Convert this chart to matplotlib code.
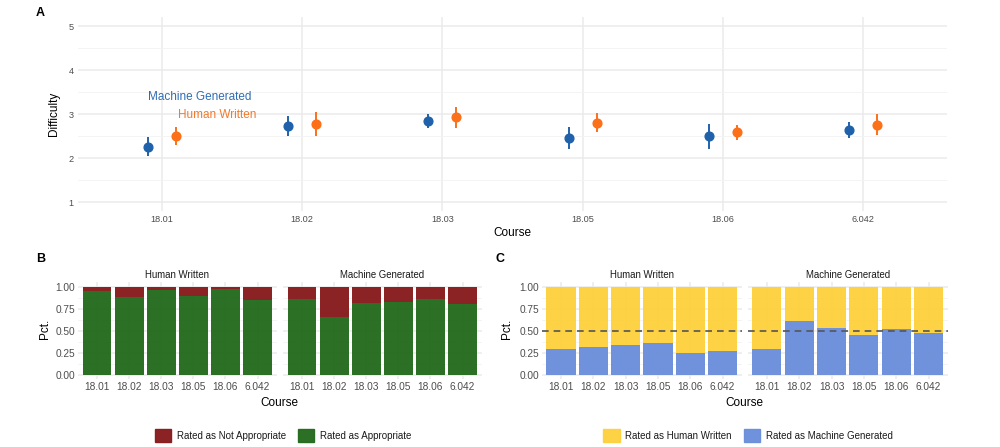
"""Course difficulty, appropriateness and human/machine ratings."""
import matplotlib
matplotlib.use("Agg")
import matplotlib.pyplot as plt
import numpy as np
from matplotlib.patches import Patch

plt.rcParams["font.family"] = ["Liberation Sans", "DejaVu Sans"]

courses = ["18.01", "18.02", "18.03", "18.05", "18.06", "6.042"]

# Panel A: mean difficulty with interval ends
mg_mean = [2.25, 2.73, 2.84, 2.45, 2.50, 2.64]
mg_lo = [2.04, 2.50, 2.68, 2.20, 2.20, 2.45]
mg_hi = [2.47, 2.95, 3.00, 2.70, 2.77, 2.82]
hw_mean = [2.50, 2.77, 2.93, 2.80, 2.59, 2.75]
hw_lo = [2.30, 2.50, 2.68, 2.59, 2.41, 2.52]
hw_hi = [2.70, 3.05, 3.16, 3.02, 2.75, 3.00]

# Panel B: share rated as appropriate
appr_hw = [0.951, 0.879, 0.962, 0.894, 0.974, 0.853]
appr_mg = [0.864, 0.657, 0.811, 0.826, 0.864, 0.800]

# Panel C: share rated as machine generated
machine_hw = [0.290, 0.320, 0.336, 0.362, 0.245, 0.268]
machine_mg = [0.294, 0.608, 0.536, 0.457, 0.517, 0.475]

BLUE = "#1f62ab"
ORANGE = "#fb7019"
RED = "#861a1c"
GREEN = "#236a1d"
YELLOW = "#fdd03d"
LBLUE = "#6a8edb"
TXT = "#4d4d4d"
GRID = "#ebebeb"
ALPHA = 0.96

fig = plt.figure(figsize=(10, 4.47), dpi=100)


def style(ax, minor_y):
    for s in ax.spines.values():
        s.set_visible(False)
    ax.tick_params(length=0, colors=TXT)
    ax.set_axisbelow(True)
    ax.set_yticks(minor_y, minor=True)
    ax.grid(True, which="major", color=GRID, lw=1.1)
    ax.grid(True, which="minor", axis="y", color="#f3f3f3", lw=0.6)
    ax.tick_params(which="minor", length=0)


# ---- Panel A ----
axA = fig.add_axes([0.078, 0.5284, 0.869, 0.4331])
style(axA, [1.5, 2.5, 3.5, 4.5])
x = np.arange(len(courses))
mg_err = [np.array(mg_mean) - np.array(mg_lo), np.array(mg_hi) - np.array(mg_mean)]
hw_err = [np.array(hw_mean) - np.array(hw_lo), np.array(hw_hi) - np.array(hw_mean)]
axA.errorbar(x - 0.1, mg_mean, yerr=mg_err, fmt="o", color=BLUE, ms=6.3,
             elinewidth=1.4, capsize=0)
axA.errorbar(x + 0.1, hw_mean, yerr=hw_err, fmt="o", color=ORANGE, ms=6.3,
             elinewidth=1.4, capsize=0)
axA.text(0.27, 3.39, "Machine Generated", color="#2e6db3", fontsize=8.5,
         ha="center", va="center")
axA.text(0.39, 2.98, "Human Written", color="#f07a2e", fontsize=8.5,
         ha="center", va="center")
axA.set_xlim(-0.6, 5.6)
axA.set_ylim(0.8, 5.2)
axA.set_yticks([1, 2, 3, 4, 5])
axA.set_xticks(x)
axA.set_xticklabels(courses)
axA.tick_params(labelsize=6.6, pad=3)
axA.set_xlabel("Course", fontsize=8.5, labelpad=2)
axA.set_ylabel("Difficulty", fontsize=8.5, labelpad=6)
fig.text(0.036, 0.972, "A", fontsize=9, fontweight="bold", va="center")


def facet_pair(lefts, width, bottom, height, series, lower_c, upper_c, letter,
               lx, yl_x, hline=False):
    titles = ["Human Written", "Machine Generated"]
    for i in range(2):
        ax = fig.add_axes([lefts[i], bottom, width, height])
        style(ax, [0.125, 0.375, 0.625, 0.875])
        vals = np.array(series[i])
        ax.bar(x, vals, width=0.9, color=lower_c, alpha=ALPHA, lw=0)
        ax.bar(x, 1 - vals, bottom=vals, width=0.9, color=upper_c, alpha=ALPHA,
               lw=0)
        if hline:
            ax.axhline(0.5, color="#555555", ls=(0, (4, 3)), lw=1.2)
        ax.set_xlim(-0.6, 5.6)
        ax.set_ylim(-0.05, 1.05)
        ax.set_xticks(x)
        ax.set_xticklabels(courses)
        ax.set_yticks([0, 0.25, 0.5, 0.75, 1.0])
        ax.tick_params(labelsize=7.3, pad=2)
        if i == 0:
            ax.set_yticklabels(["0.00", "0.25", "0.50", "0.75", "1.00"])
        else:
            ax.set_yticklabels([])
        ax.set_title(titles[i], fontsize=6.9, pad=3, color="#1a1a1a")
    mid = (lefts[0] + lefts[1] + width) / 2
    fig.text(mid, 0.098, "Course", fontsize=8.5, ha="center", va="center")
    fig.text(yl_x, bottom + height * 0.52, "Pct.", fontsize=8.5, rotation=90,
             ha="center", va="center")
    fig.text(lx, 0.421, letter, fontsize=9, fontweight="bold", va="center")


facet_pair([0.0777, 0.2827], 0.1991, 0.1512, 0.2173, [appr_hw, appr_mg],
           GREEN, RED, "B", 0.036, 0.045)
facet_pair([0.5416, 0.7475], 0.2004, 0.1512, 0.2173, [machine_hw, machine_mg],
           LBLUE, YELLOW, "C", 0.496, 0.507, hline=True)

legB = [Patch(color=RED, alpha=ALPHA), Patch(color=GREEN, alpha=ALPHA)]
fig.legend(legB, ["Rated as Not Appropriate", "Rated as Appropriate"],
           loc="center", bbox_to_anchor=(0.283, 0.025), ncol=2, frameon=False,
           fontsize=7, handlelength=1.7, handleheight=1.7, columnspacing=1.2,
           handletextpad=0.6, labelcolor="#1a1a1a")
legC = [Patch(color=YELLOW, alpha=ALPHA), Patch(color=LBLUE, alpha=ALPHA)]
fig.legend(legC, ["Rated as Human Written", "Rated as Machine Generated"],
           loc="center", bbox_to_anchor=(0.748, 0.025), ncol=2, frameon=False,
           fontsize=7, handlelength=1.7, handleheight=1.7, columnspacing=1.2,
           handletextpad=0.6, labelcolor="#1a1a1a")

fig.savefig("out.png", dpi=100, facecolor="white")
